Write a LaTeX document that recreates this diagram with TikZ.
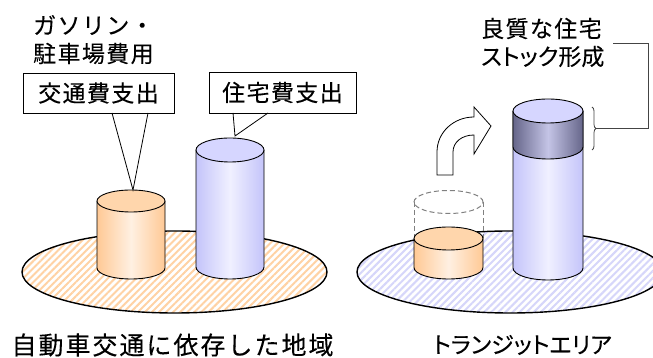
\documentclass[tikz,border=0pt]{standalone}
\usepackage{fontspec}
\newfontfamily\jp{Noto Sans CJK JP}[LetterSpace=6,FakeBold=0.15]
\newfontfamily\jpb{Noto Sans CJK JP}[LetterSpace=8,FakeBold=0.15]
\newfontfamily\jpk{Noto Sans CJK JP}[CharacterWidth=AlternateProportional,FakeBold=0.15]
\usetikzlibrary{patterns.meta,decorations.pathreplacing}
\definecolor{orEdge}{HTML}{FFC995}
\definecolor{orMid}{HTML}{FFF0E2}
\definecolor{orTop}{HTML}{FFD6AC}
\definecolor{orHatch}{HTML}{FFD2A4}
\definecolor{blEdge}{HTML}{C4C4FA}
\definecolor{blMid}{HTML}{F0F0FF}
\definecolor{blTop}{HTML}{D6D6FF}
\definecolor{blHatch}{HTML}{D6D6FA}
\definecolor{bandEdge}{HTML}{66668A}
\definecolor{bandMid}{HTML}{C4C4E6}
\definecolor{callgrey}{HTML}{444444}
\newcommand\mybody[7]{% cx rx ry top bot edge mid
  \shade[left color=#6,right color=#6,middle color=#7]
    ({#1-#2},#4) -- ({#1-#2},#5) arc[start angle=180,end angle=360,x radius=#2pt,y radius=#3pt] -- ({#1+#2},#4) -- cycle;
  \draw[cylline] ({#1-#2},#4) -- ({#1-#2},#5) arc[start angle=180,end angle=360,x radius=#2pt,y radius=#3pt] -- ({#1+#2},#4);
}
\begin{document}
\begin{tikzpicture}[x=1pt,y=1pt,
  cylline/.style={draw=black,line width=0.9pt},
  ground/.style={draw=black,line width=1.4pt},
  callbox/.style={draw=black,line width=0.8pt,fill=white,minimum width=#1,minimum height=40pt,inner sep=0pt,font=\jp\fontsize{23}{27}\selectfont},
  callbox/.default=150pt,
  lbl/.style={inner sep=0pt,anchor=west,font=\jp\fontsize{23}{27}\selectfont},
  bottomlbl/.style={inner sep=0pt,font=\jpb\fontsize{25}{29}\selectfont},
  callline/.style={draw=black,line width=0.8pt}]
\useasboundingbox (0,0) rectangle (653,358);
\clip (0,0) rectangle (653,358);
% grounds
\fill[white] (174.5,86) ellipse[x radius=152.5pt,y radius=41pt];
\path[pattern={Lines[angle=45,distance=5pt,line width=2pt]},pattern color=orHatch] (174.5,86) ellipse[x radius=152.5pt,y radius=41pt];
\draw[ground] (174.5,86) ellipse[x radius=152.5pt,y radius=41pt];
\fill[white] (510,86) ellipse[x radius=153pt,y radius=41pt];
\path[pattern={Lines[angle=45,distance=5pt,line width=2pt]},pattern color=blHatch] (510,86) ellipse[x radius=153pt,y radius=41pt];
\draw[ground] (510,86) ellipse[x radius=153pt,y radius=41pt];
% left orange cylinder
\mybody{131}{34}{11}{157}{90}{orEdge}{orMid}
\draw[cylline,fill=orTop] (131,157) ellipse[x radius=34pt,y radius=11pt];
\coordinate (ortip) at (133,168);
% left blue cylinder
\mybody{230}{34}{12}{208}{91}{blEdge}{blMid}
\draw[cylline,fill=blTop] (230,208) ellipse[x radius=34pt,y radius=12pt];
\coordinate (bltip) at (235,222);
% dashed ghost cylinder
\draw[draw=gray,line width=1pt,dash pattern=on 5pt off 3pt] (448.5,156) ellipse[x radius=34.5pt,y radius=11.5pt];
\draw[draw=gray,line width=1pt,dash pattern=on 5pt off 3pt] (414,156) -- (414,119.5);
\draw[draw=gray,line width=1pt,dash pattern=on 5pt off 3pt] (483,156) -- (483,119.5);
% right orange cylinder
\mybody{448.5}{34.5}{11.5}{119.5}{90.5}{orEdge}{orMid}
\draw[cylline,fill=orTop] (448.5,119.5) ellipse[x radius=34.5pt,y radius=11.5pt];
% right blue cylinder
\mybody{548}{35}{12}{247}{90}{blEdge}{blMid}
\shade[left color=bandEdge,right color=bandEdge,middle color=bandMid]
  (513,247) -- (513,211) arc[start angle=180,end angle=360,x radius=35pt,y radius=12pt] -- (583,247) -- cycle;
\draw[cylline] (513,247) -- (513,211) arc[start angle=180,end angle=360,x radius=35pt,y radius=12pt] -- (583,247);
\draw[cylline,fill=blTop] (548,247) ellipse[x radius=35pt,y radius=12pt];
% bent arrow
\draw[black,line width=0.8pt,fill=white,line join=miter]
  (437,183) -- (437,206) .. controls (437,226) and (454,241) .. (474,241)
  -- (474,251) -- (491,232) -- (474,204) -- (474,223)
  .. controls (462,223) and (453,216) .. (453,206) -- (453,183) -- cycle;
% callouts
\node[callbox=151pt] (kotsu) at (98.5,265) {交通費支出};
\draw[callline] (112,245) -- (ortip) -- (148,245);
\node[callbox=147pt,minimum height=41pt] (jutaku) at (282.5,265.5) {住宅費支出};
\draw[callline] (233,245) -- (bltip) -- (268,245);
% labels
\node[lbl] (gas1) at (33,333) {ガソリン・};
\node[lbl] (gas2) at (33,304.5) {駐車場費用};
\node[lbl] (ryo1) at (481,329.5) {良質な住宅};
\node[lbl,font=\jpk\fontsize{23}{27}\selectfont] (ryo2) at (481,301.5) {ストック形成};
% brace
\draw[callgrey,line width=0.8pt,decorate,decoration={brace,amplitude=4pt}] (592,251) -- (592,208);
\coordinate (bracetip) at (596,229.5);
\coordinate (c1) at (648,229.5);
\coordinate (c2) at (648,315);
\coordinate (c3) at (613,315);
\draw[callgrey,line width=0.8pt] (bracetip) -- (c1) -- (c2) -- (c3);
% bottom labels
\node[bottomlbl] (left) at (172.5,13) {自動車交通に依存した地域};
\node[bottomlbl,font=\jpk\fontsize{23}{27}\selectfont] (right) at (522.5,13) {トランジットエリア};
\end{tikzpicture}
\end{document}
